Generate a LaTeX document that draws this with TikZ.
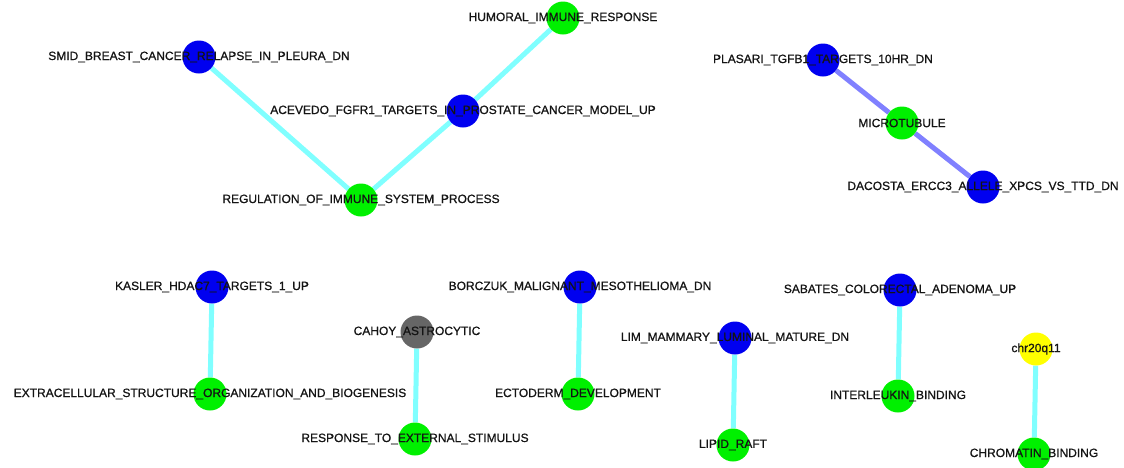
\documentclass[tikz,border=0pt]{standalone}
\usepackage{fontspec}
\setmainfont{Liberation Sans}[FakeBold=0.8]
\usepackage{xcolor}
\usetikzlibrary{backgrounds}
\definecolor{nodoazul}{RGB}{0,0,240}
\definecolor{nodoverde}{RGB}{0,240,0}
\definecolor{nodogris}{RGB}{102,102,102}
\definecolor{nodoamarillo}{RGB}{255,255,0}
\definecolor{aristacian}{RGB}{128,255,255}
\definecolor{aristalila}{RGB}{128,128,255}

\begin{document}
\begin{tikzpicture}[x=1pt, y=-1pt,
    gen/.style={circle, inner sep=0pt, minimum size=33pt},
    etiq/.style={font=\fontsize{12}{14}\selectfont, text=black!92, inner sep=0pt},
    arista/.style={line width=5pt, aristacian},
    aristab/.style={line width=5pt, aristalila}]
    \useasboundingbox (0,0) rectangle (1124,467);
    % grupo superior izquierdo
    \node[gen, fill=nodoverde] (humoral) at (563,18) {};
    \node[gen, fill=nodoazul] (smid) at (199,57) {};
    \node[gen, fill=nodoazul] (acevedo) at (463,111) {};
    \node[gen, fill=nodoverde] (regulation) at (361,200) {};
    % grupo superior derecho
    \node[gen, fill=nodoazul] (plasari) at (823,60) {};
    \node[gen, fill=nodoverde] (microtubule) at (902,123) {};
    \node[gen, fill=nodoazul] (dacosta) at (983,187) {};
    % pares inferiores
    \node[gen, fill=nodoazul] (kasler) at (212,287) {};
    \node[gen, fill=nodoverde] (extracel) at (210,394) {};
    \node[gen, fill=nodogris] (cahoy) at (417,332) {};
    \node[gen, fill=nodoverde] (response) at (415,439) {};
    \node[gen, fill=nodoazul] (borczuk) at (580,287) {};
    \node[gen, fill=nodoverde] (ectoderm) at (578,394) {};
    \node[gen, fill=nodoazul] (lim) at (735,338) {};
    \node[gen, fill=nodoverde] (lipid) at (733,445) {};
    \node[gen, fill=nodoazul] (sabates) at (900,290) {};
    \node[gen, fill=nodoverde] (interleukin) at (898,396) {};
    \node[gen, fill=nodoamarillo] (chr) at (1036,349) {};
    \node[gen, fill=nodoverde] (chromatin) at (1034,454) {};
    % etiquetas encima de los nodos
    \node[etiq] (humoral-t) at (humoral) {HUMORAL\_IMMUNE\_RESPONSE};
    \node[etiq] (smid-t) at (smid) {SMID\_BREAST\_CANCER\_RELAPSE\_IN\_PLEURA\_DN};
    \node[etiq] (acevedo-t) at (acevedo) {ACEVEDO\_FGFR1\_TARGETS\_IN\_PROSTATE\_CANCER\_MODEL\_UP};
    \node[etiq] (regulation-t) at (regulation) {REGULATION\_OF\_IMMUNE\_SYSTEM\_PROCESS};
    \node[etiq] (plasari-t) at (plasari) {PLASARI\_TGFB1\_TARGETS\_10HR\_DN};
    \node[etiq] (microtubule-t) at (microtubule) {MICROTUBULE};
    \node[etiq] (dacosta-t) at (dacosta) {DACOSTA\_ERCC3\_ALLELE\_XPCS\_VS\_TTD\_DN};
    \node[etiq] (kasler-t) at (kasler) {KASLER\_HDAC7\_TARGETS\_1\_UP};
    \node[etiq] (extracel-t) at (extracel) {EXTRACELLULAR\_STRUCTURE\_ORGANIZATION\_AND\_BIOGENESIS};
    \node[etiq] (cahoy-t) at (cahoy) {CAHOY\_ASTROCYTIC};
    \node[etiq] (response-t) at (response) {RESPONSE\_TO\_EXTERNAL\_STIMULUS};
    \node[etiq] (borczuk-t) at (borczuk) {BORCZUK\_MALIGNANT\_MESOTHELIOMA\_DN};
    \node[etiq] (ectoderm-t) at (ectoderm) {ECTODERM\_DEVELOPMENT};
    \node[etiq] (lim-t) at (lim) {LIM\_MAMMARY\_LUMINAL\_MATURE\_DN};
    \node[etiq] (lipid-t) at (lipid) {LIPID\_RAFT};
    \node[etiq] (sabates-t) at (sabates) {SABATES\_COLORECTAL\_ADENOMA\_UP};
    \node[etiq] (interleukin-t) at (interleukin) {INTERLEUKIN\_BINDING};
    \node[etiq] (chr-t) at (chr) {chr20q11};
    \node[etiq] (chromatin-t) at (chromatin) {CHROMATIN\_BINDING};
    % aristas por debajo de los nodos
    \begin{pgfonlayer}{background}
        \draw[arista] (smid) -- (regulation);
        \draw[arista] (regulation) -- (acevedo);
        \draw[arista] (acevedo) -- (humoral);
        \draw[aristab] (plasari) -- (microtubule);
        \draw[aristab] (microtubule) -- (dacosta);
        \draw[arista] (kasler) -- (extracel);
        \draw[arista] (cahoy) -- (response);
        \draw[arista] (borczuk) -- (ectoderm);
        \draw[arista] (lim) -- (lipid);
        \draw[arista] (sabates) -- (interleukin);
        \draw[arista] (chr) -- (chromatin);
    \end{pgfonlayer}
\end{tikzpicture}
\end{document}
